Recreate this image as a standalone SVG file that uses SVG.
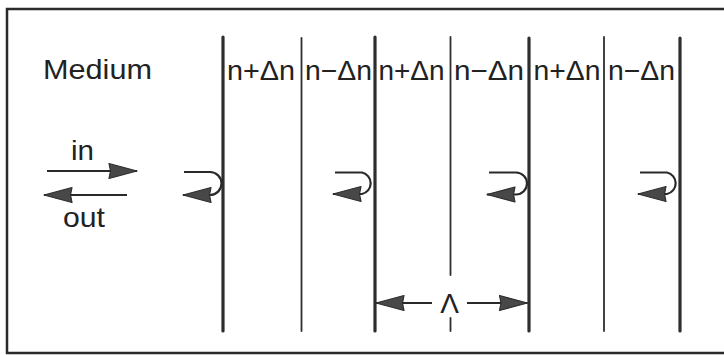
<svg xmlns="http://www.w3.org/2000/svg" width="724" height="355" viewBox="0 0 724 355">
  <style>
    .frame { fill: none; stroke: #2a2a2a; stroke-width: 2.5; }
    .mirror { stroke: #2e2e2e; stroke-width: 3.2; stroke-linecap: round; }
    .layer { stroke: #2e2e2e; stroke-width: 1.8; stroke-linecap: round; }
    .lbl { font-family: "Liberation Sans", Arial, sans-serif; font-size: 28px; fill: #222; }
    .ray { fill: none; stroke: #2a2a2a; stroke-width: 2.2; }
  </style>
  <defs>
    <marker id="head" markerUnits="userSpaceOnUse" markerWidth="32" markerHeight="20" viewBox="0 -10 32 20" refX="29" refY="0" orient="auto">
      <path d="M1,-7.5 L29,0 L1,7.5 L2.5,0 Z" fill="#484848" stroke="#2e2e2e" stroke-width="1.2" stroke-linejoin="round"/>
    </marker>
  </defs>

  <rect width="724" height="355" fill="#fff"/>

  <!-- outer frame (open on the right) -->
  <path class="frame" d="M724,9 H7 V353 H724"/>

  <!-- medium label -->
  <g id="medium">
    <text class="lbl" x="43" y="79" textLength="109" lengthAdjust="spacingAndGlyphs">Medium</text>
  </g>

  <!-- layer boundaries: thick = reflecting interfaces, thin = intermediate -->
  <g id="boundaries">
    <line class="mirror" x1="223" y1="37" x2="223" y2="331"/>
    <line class="layer" x1="301.5" y1="38" x2="301.5" y2="331"/>
    <line class="mirror" x1="375" y1="37" x2="375" y2="331"/>
    <line class="layer" x1="450.5" y1="37" x2="450.5" y2="275"/>
    <line class="layer" x1="450.5" y1="318" x2="450.5" y2="331"/>
    <line class="mirror" x1="529" y1="38" x2="529" y2="331"/>
    <line class="layer" x1="604" y1="37" x2="604" y2="331"/>
    <line class="mirror" x1="680" y1="38" x2="680" y2="331"/>
  </g>

  <!-- refractive index of each layer -->
  <g id="layer1"><text class="lbl" x="227" y="80" textLength="68" lengthAdjust="spacingAndGlyphs">n+Δn</text></g>
  <g id="layer2"><text class="lbl" x="305" y="80" textLength="67" lengthAdjust="spacingAndGlyphs">n−Δn</text></g>
  <g id="layer3"><text class="lbl" x="378.5" y="80" textLength="66" lengthAdjust="spacingAndGlyphs">n+Δn</text></g>
  <g id="layer4"><text class="lbl" x="454" y="80" textLength="70" lengthAdjust="spacingAndGlyphs">n−Δn</text></g>
  <g id="layer5"><text class="lbl" x="533.5" y="80" textLength="67" lengthAdjust="spacingAndGlyphs">n+Δn</text></g>
  <g id="layer6"><text class="lbl" x="608" y="80" textLength="67" lengthAdjust="spacingAndGlyphs">n−Δn</text></g>

  <!-- incident / outgoing labels -->
  <g id="in-label"><text class="lbl" x="71" y="160" textLength="23" lengthAdjust="spacingAndGlyphs">in</text></g>
  <g id="out-label"><text class="lbl" x="63" y="226.5" textLength="42" lengthAdjust="spacingAndGlyphs">out</text></g>

  <!-- period label -->
  <g id="period"><text class="lbl" x="449.5" y="313" text-anchor="middle">Λ</text></g>

  <!-- connectors -->
  <g id="connectors">
    <path class="ray" d="M47,171 H137" marker-end="url(#head)"/>
    <path class="ray" d="M127,195 H44" marker-end="url(#head)"/>

    <!-- partial reflections at each high-index interface -->
    <path class="ray" d="M184,172 H210 A11.5,11.5 0 0 1 210,195 H183" marker-end="url(#head)"/>
    <path class="ray" d="M335,172.5 H362 A11,11 0 0 1 362,194 H333" marker-end="url(#head)"/>
    <path class="ray" d="M489,172.5 H516 A11,11 0 0 1 516,194.5 H487" marker-end="url(#head)"/>
    <path class="ray" d="M640,172.5 H667 A11,11 0 0 1 667,194 H638" marker-end="url(#head)"/>

    <!-- grating period dimension -->
    <path class="ray" d="M432,303 H376" marker-end="url(#head)"/>
    <path class="ray" d="M467,303 H527.5" marker-end="url(#head)"/>
  </g>
</svg>
